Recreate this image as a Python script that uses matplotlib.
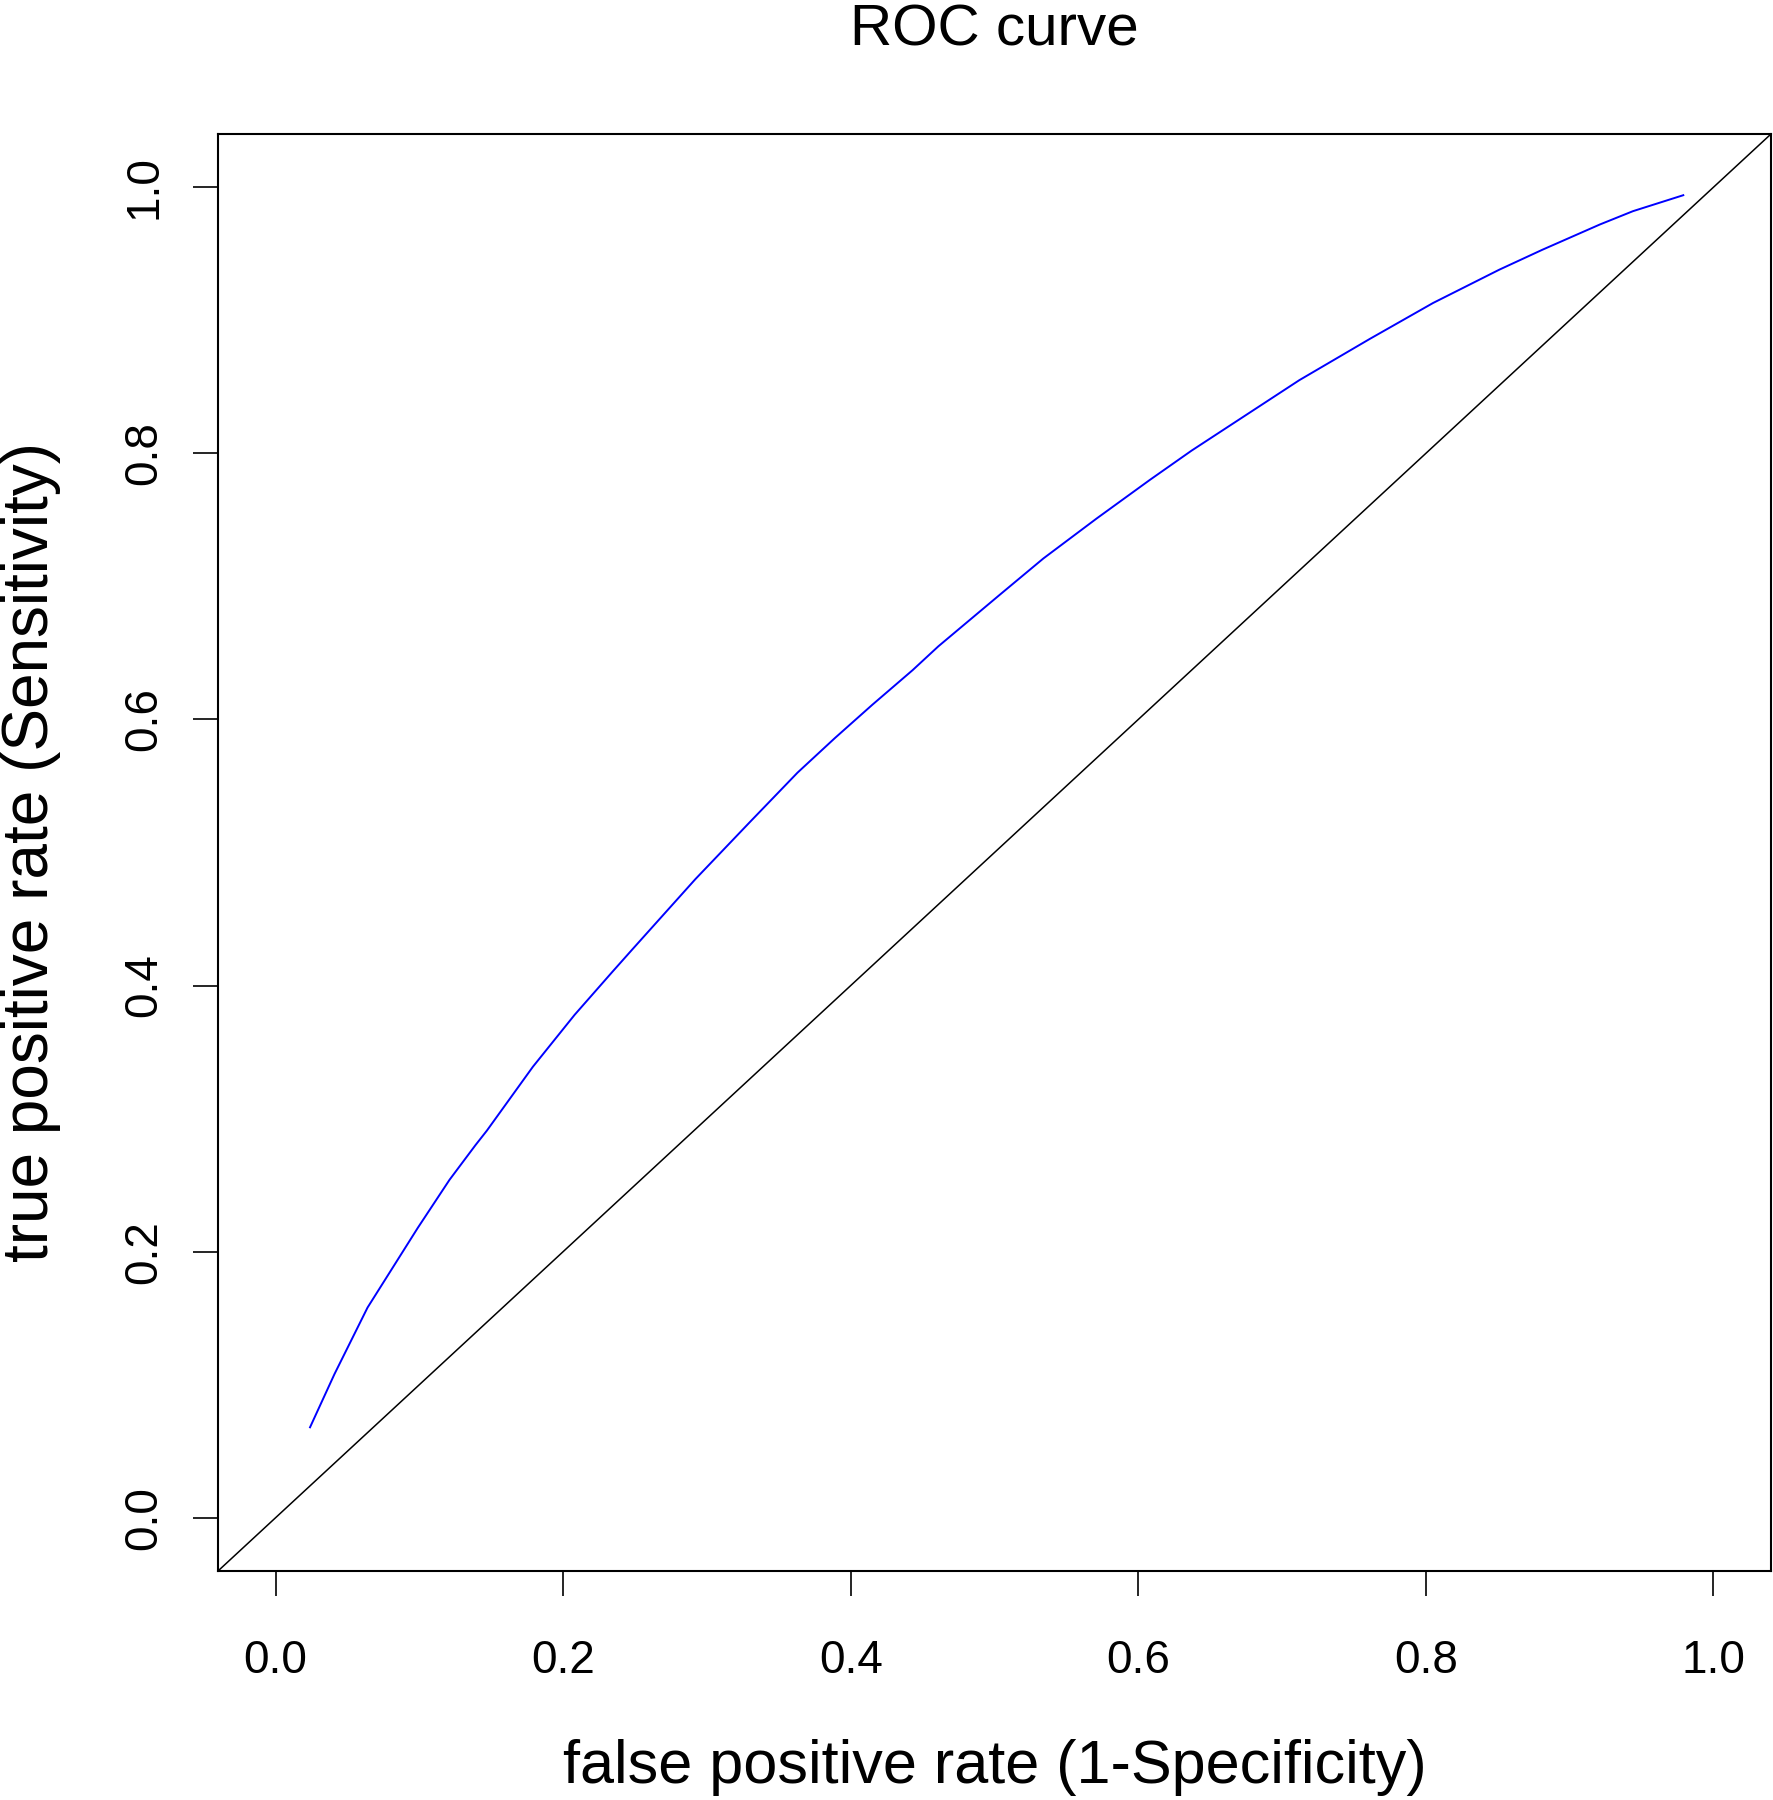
import matplotlib
matplotlib.use("Agg")
import matplotlib.pyplot as plt

# ROC curve
fpr = [0.024, 0.041, 0.064, 0.099, 0.121, 0.139, 0.147, 0.179, 0.208, 0.234,
       0.248, 0.292, 0.330, 0.363, 0.389, 0.415, 0.443, 0.461, 0.504, 0.534,
       0.571, 0.608, 0.637, 0.712, 0.761, 0.805, 0.851, 0.881, 0.921, 0.944,
       0.979]
tpr = [0.068, 0.108, 0.158, 0.218, 0.254, 0.280, 0.291, 0.339, 0.378, 0.410,
       0.427, 0.480, 0.523, 0.560, 0.586, 0.611, 0.637, 0.655, 0.694, 0.721,
       0.751, 0.780, 0.802, 0.855, 0.886, 0.913, 0.938, 0.953, 0.972, 0.982,
       0.994]
ticks = [0.0, 0.2, 0.4, 0.6, 0.8, 1.0]
tick_labels = ["0.0", "0.2", "0.4", "0.6", "0.8", "1.0"]
title = "ROC curve"
xlabel = "false positive rate (1-Specificity)"
ylabel = "true positive rate (Sensitivity)"

plt.rcParams['font.family'] = ['Liberation Sans', 'DejaVu Sans']

W, H = 1774, 1800
fig = plt.figure(figsize=(W / 100, H / 100), dpi=100)
L, R, T, B = 218, 1771, 134, 1571
ax = fig.add_axes([L / W, 1 - B / H, (R - L) / W, (B - T) / H])

ax.plot(fpr, tpr, color="#0000FF", lw=1.4, solid_joinstyle="round")
ax.plot([-0.04, 1.04], [-0.04, 1.04], color="black", lw=1.1)
ax.set_xlim(-0.04, 1.04)
ax.set_ylim(-0.04, 1.04)

for s in ax.spines.values():
    s.set_linewidth(1.5)
    s.set_color("black")

ax.set_xticks(ticks)
ax.set_xticklabels(tick_labels)
ax.set_yticks(ticks)
ax.set_yticklabels(tick_labels, rotation=90, va="center")
ax.tick_params(axis="both", direction="out", length=18, width=1.2,
               labelsize=33, colors="black")
ax.tick_params(axis="x", pad=31)
ax.tick_params(axis="y", pad=19)

cx = (L + R) / 2 / W
fig.text(cx, 1 - 46 / H, title, ha="center", va="baseline", fontsize=42)
fig.text(cx, 1 - 1768 / H, xlabel, ha="center", va="center", fontsize=44)
fig.text(31 / W, 1 - ((T + B) / 2) / H, ylabel, ha="center", va="center",
         rotation=90, fontsize=46)

fig.savefig("out.png", dpi=100, facecolor="white")
